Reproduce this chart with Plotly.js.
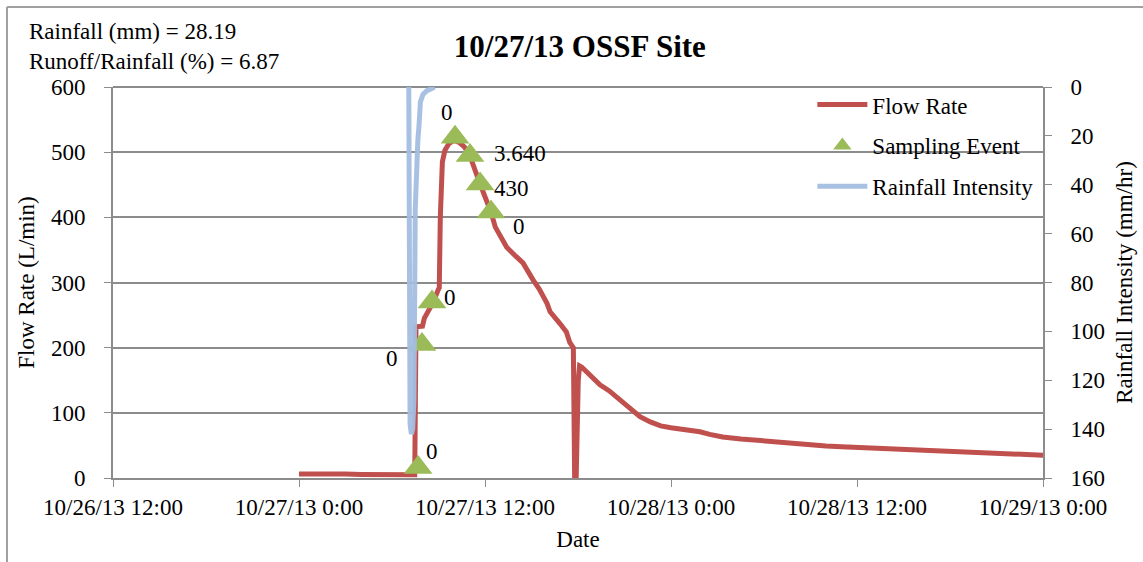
<!DOCTYPE html>
<html>
<head>
<meta charset="utf-8">
<script src="https://cdn.plot.ly/plotly-3.0.1.min.js"></script>
<style>
html,body{margin:0;padding:0;background:#fff;}
#chart{width:1143px;height:562px;}
</style>
</head>
<body>
<div id="chart"></div>
<script>
// ---- Data ----
const flowTimes = [
 '2013-10-27 00:00','2013-10-27 01:00','2013-10-27 02:00','2013-10-27 03:00','2013-10-27 04:00',
 '2013-10-27 05:00','2013-10-27 06:00','2013-10-27 07:00','2013-10-27 07:28','2013-10-27 07:33',
 '2013-10-27 07:58','2013-10-27 08:05','2013-10-27 08:20','2013-10-27 08:40','2013-10-27 08:58',
 '2013-10-27 09:03','2013-10-27 09:07','2013-10-27 09:11','2013-10-27 09:15','2013-10-27 09:25',
 '2013-10-27 09:40','2013-10-27 10:00','2013-10-27 10:20','2013-10-27 10:40','2013-10-27 11:00',
 '2013-10-27 11:40','2013-10-27 12:23','2013-10-27 12:40','2013-10-27 13:24','2013-10-27 14:00',
 '2013-10-27 14:27','2013-10-27 15:06','2013-10-27 15:30','2013-10-27 16:00','2013-10-27 16:12',
 '2013-10-27 16:50','2013-10-27 17:15','2013-10-27 17:28','2013-10-27 17:42','2013-10-27 17:47',
 '2013-10-27 17:53','2013-10-27 18:01','2013-10-27 18:06','2013-10-27 18:15','2013-10-27 18:35',
 '2013-10-27 19:00','2013-10-27 19:25','2013-10-27 20:00','2013-10-27 20:30','2013-10-27 21:00',
 '2013-10-27 21:33','2013-10-27 22:00','2013-10-27 22:40','2013-10-27 23:20','2013-10-28 00:00',
 '2013-10-28 01:00','2013-10-28 01:52','2013-10-28 02:30','2013-10-28 03:20','2013-10-28 04:30',
 '2013-10-28 05:30','2013-10-28 06:30','2013-10-28 07:30','2013-10-28 08:45','2013-10-28 10:00',
 '2013-10-28 11:00','2013-10-28 12:00','2013-10-28 13:00','2013-10-28 14:00','2013-10-28 15:00',
 '2013-10-28 16:00','2013-10-28 17:20','2013-10-28 18:30','2013-10-28 19:30','2013-10-28 20:30',
 '2013-10-28 21:40','2013-10-28 23:00','2013-10-29 00:00'
];
const flowRate = [
 6,6.5,5.5,6,5.5,
 5.5,5,5,5,232,
 233,245,255,270,288,
 292,400,460,485,503,
 513,518,515,508,496,
 452,408,385,354,340,
 330,304,290,268,255,
 237,224,208,200,0,
 0,150,172,170,163,
 153,143,134,124,112,
 101,94,86,80,77,
 74,71,67,63,60,
 58,55,53,51,49,
 48,47,46,45,44,
 43,41,40,39,37.5,
 36.5,35.5,35
];

const sampleTimes = ['2013-10-27 07:41','2013-10-27 07:56','2013-10-27 08:35','2013-10-27 10:04',
 '2013-10-27 11:02','2013-10-27 11:41','2013-10-27 12:23'];
const sampleFlow = [16,205,270,523,495,451,408];
const sampleLabels = ['0','0','0','0','3.640','430','0'];

const rainTimes = ['2013-10-27 07:00','2013-10-27 07:05','2013-10-27 07:10','2013-10-27 07:15',
 '2013-10-27 07:20','2013-10-27 07:25','2013-10-27 07:30','2013-10-27 07:35','2013-10-27 07:40',
 '2013-10-27 07:45','2013-10-27 07:50','2013-10-27 08:00','2013-10-27 08:15','2013-10-27 08:30',
 '2013-10-27 08:45'];
const rainIntensity = [0,0,138,142,140,128,50,25,22,15,6,3,1.5,0.8,0];

const xTickVals = ['2013-10-26 12:00','2013-10-27 00:00','2013-10-27 12:00','2013-10-28 00:00','2013-10-28 12:00','2013-10-29 00:00'];
const xTickText = ['10/26/13 12:00','10/27/13 0:00','10/27/13 12:00','10/28/13 0:00','10/28/13 12:00','10/29/13 0:00'];

// label pixel offsets (style)
const labelShiftX = [14,-30,18,-8,50,31,28];
const labelShiftY = [16,-14,5,25,2,-4,-14];

// ---- Styles ----
const FONT = 'Liberation Serif, Times New Roman, serif';
const FS = 23;
const GRID = '#8c8c8c';

const traces = [
 {x: flowTimes, y: flowRate, type:'scatter', mode:'lines', name:'Flow Rate', legendgroup:'a',
  line:{color:'#C0504D', width:5}, yaxis:'y'},
 {x: sampleTimes, y: sampleFlow, type:'scatter', mode:'markers', name:'Sampling Event', legendgroup:'b',
  marker:{symbol:'triangle-up', size:25, color:'#9BBB59'}, yaxis:'y'},
 {x: rainTimes, y: rainIntensity, type:'scatter', mode:'lines', name:'Rainfall Intensity', legendgroup:'c',
  line:{color:'#A3BEE0', width:5}, yaxis:'y2', opacity:0.95}
];

const annotations = sampleLabels.map((t,i)=>({
  x: sampleTimes[i], y: sampleFlow[i], xref:'x', yref:'y', text:t, showarrow:false,
  xshift: labelShiftX[i], yshift: labelShiftY[i], font:{family:FONT, size:FS, color:'#000'}
}));
annotations.push({xref:'paper', yref:'paper', x:-0.0925, y:1.143, xanchor:'left', yanchor:'middle',
  text:'Rainfall (mm) = 28.19', showarrow:false, font:{family:FONT, size:FS, color:'#000'}});
annotations.push({xref:'paper', yref:'paper', x:-0.0925, y:1.064, xanchor:'left', yanchor:'middle',
  text:'Runoff/Rainfall (%) = 6.87', showarrow:false, font:{family:FONT, size:FS, color:'#000'}});

const layout = {
  width:1143, height:562,
  margin:{l:113, r:100, t:87, b:84},
  paper_bgcolor:'#fff', plot_bgcolor:'#fff',
  font:{family:FONT, size:FS, color:'#000'},
  title:{text:'<b>10/27/13 OSSF Site</b>', font:{family:FONT, size:31, color:'#000'},
    xref:'paper', x:0.502, xanchor:'center', yref:'container', y:0.918, yanchor:'middle'},
  showlegend:true,
  legend:{x:0.752, xanchor:'left', y:1.01, yanchor:'top', bgcolor:'rgba(0,0,0,0)',
    font:{family:FONT, size:FS, color:'#000'}, tracegroupgap:8, itemwidth:50},
  xaxis:{type:'date', range:['2013-10-26 12:00','2013-10-29 00:00'],
    tickvals:xTickVals, ticktext:xTickText, ticks:'outside', ticklen:7, tickcolor:GRID,
    showline:true, linecolor:GRID, linewidth:2, showgrid:false, zeroline:false,
    tickfont:{family:FONT, size:FS}, ticklabelstandoff:0,
    title:{text:'Date', font:{family:FONT, size:FS}, standoff:12}, automargin:false},
  yaxis:{range:[0,600], dtick:100, ticks:'outside', ticklen:7, tickcolor:GRID,
    showline:true, linecolor:GRID, linewidth:2, showgrid:true, gridcolor:GRID, gridwidth:2,
    zeroline:false, tickfont:{family:FONT, size:FS}, ticklabelstandoff:14,
    title:{text:'Flow Rate (L/min)', font:{family:FONT, size:FS}, standoff:10}, automargin:false},
  yaxis2:{range:[160,0], dtick:20, overlaying:'y', side:'right', ticks:'outside', ticklen:7,
    tickcolor:GRID, showline:true, linecolor:GRID, linewidth:2, showgrid:false, zeroline:false,
    tickfont:{family:FONT, size:FS}, ticklabelstandoff:14,
    title:{text:'Rainfall Intensity (mm/hr)', font:{family:FONT, size:FS}, standoff:12}, automargin:false},
  annotations: annotations,
  shapes:[
    {type:'line', xref:'paper', yref:'paper', x0:-0.114, x1:1.11, y0:1.2046, y1:1.2046, line:{color:'#a0a0a0', width:2}},
    {type:'line', xref:'paper', yref:'paper', x0:-0.114, x1:-0.114, y0:1.2046, y1:-0.22, line:{color:'#a0a0a0', width:2}},
    {type:'line', xref:'paper', yref:'paper', x0:0, x1:1, y0:1, y1:1, line:{color:GRID, width:2}, layer:'below'}
  ]
};

Plotly.newPlot('chart', traces, layout, {displayModeBar:false, staticPlot:true});
</script>
</body>
</html>
